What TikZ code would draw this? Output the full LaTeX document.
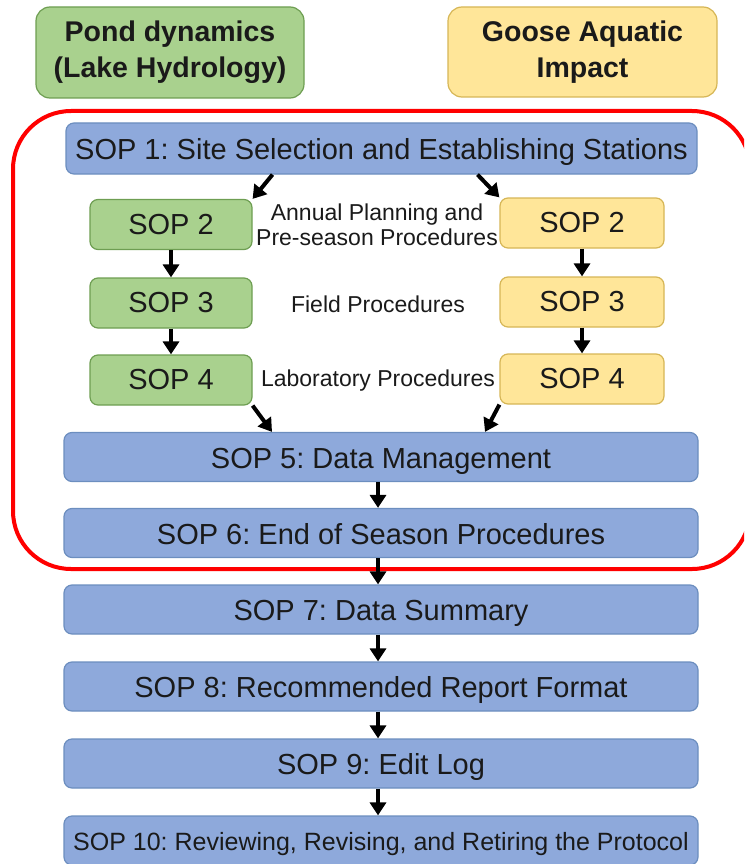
\documentclass[tikz,border=0pt]{standalone}
\usepackage{fontspec}
\setmainfont{Liberation Sans}
\usetikzlibrary{arrows.meta}
\frenchspacing
\definecolor{gfill}{HTML}{A9D18E}
\definecolor{gdraw}{HTML}{6E9E52}
\definecolor{yfill}{HTML}{FFE699}
\definecolor{ydraw}{HTML}{D6B656}
\definecolor{bfill}{HTML}{8EA9DB}
\definecolor{bdraw}{HTML}{6C8EBF}
\definecolor{txt}{HTML}{1A1A1A}
\tikzset{
  base/.style={rounded corners=8pt, line width=1.2pt, inner sep=0pt, align=center, text=txt,
    font=\fontsize{29}{34}\selectfont},
  bluebox/.style={base, fill=bfill, draw=bdraw, minimum width=634pt, minimum height=49pt,
    text height=24pt, text depth=2pt},
  greenbox/.style={base, fill=gfill, draw=gdraw, minimum width=162pt, minimum height=50pt},
  yellowbox/.style={base, fill=yfill, draw=ydraw, minimum width=164pt, minimum height=50pt},
  header/.style={base, rounded corners=14pt, minimum height=91pt, minimum width=268pt,
    font=\bfseries\fontsize{28.5}{36}\selectfont},
  lbl/.style={align=center, text=txt, inner sep=0pt, font=\fontsize{23}{25}\selectfont},
  arr/.style={line width=4pt, -{Triangle[length=13pt,width=16pt]}},
}
\begin{document}
\begin{tikzpicture}[x=1pt,y=-1pt]
\useasboundingbox (0,0) rectangle (744,864);
\clip (0,0) rectangle (744,864);
% headers
\node[header, fill=gfill, draw=gdraw] (hg) at (170,52.5) {Pond dynamics\\(Lake Hydrology)};
\node[header, fill=yfill, draw=ydraw, minimum width=269pt, minimum height=90pt] (hy) at (582.5,52) {Goose Aquatic\\Impact};
% red frame
\draw[red, line width=4pt, rounded corners=58pt] (13,111) rectangle (750,569);
% SOP boxes
\node[bluebox, minimum width=631pt, minimum height=51pt] (s1) at (381.5,148.5) {SOP 1: Site Selection and Establishing Stations};
\node[greenbox] (g2) at (171,224.5) {SOP 2};
\node[greenbox] (g3) at (171,303) {SOP 3};
\node[greenbox] (g4) at (171,380) {SOP 4};
\node[yellowbox] (y2) at (582,223) {SOP 2};
\node[yellowbox] (y3) at (582,302) {SOP 3};
\node[yellowbox] (y4) at (582,379) {SOP 4};
\node[lbl] (l2) at (377,225) {Annual Planning and\\Pre-season Procedures};
\node[lbl] (l3) at (378,304) {Field Procedures};
\node[lbl] (l4) at (378,381) {Laboratory Procedures};
\node[bluebox] (s5) at (381,457) {SOP 5: Data Management};
\node[bluebox] (s6) at (381,533) {SOP 6: End of Season Procedures};
\node[bluebox] (s7) at (381,609.5) {SOP 7: Data Summary};
\node[bluebox] (s8) at (381,686.5) {SOP 8: Recommended Report Format};
\node[bluebox] (s9) at (381,763.5) {SOP 9: Edit Log};
\node[bluebox, font=\fontsize{25}{30}\selectfont, text height=21pt, text depth=2pt] (s10) at (381,840.5) {SOP 10: Reviewing, Revising, and Retiring the Protocol};
% arrows
\draw[arr] ([xshift=-109pt]s1.south) -- (g2.north east);
\draw[arr] ([xshift=96pt]s1.south) -- (y2.north west);
\draw[arr] (g2) -- (g3);
\draw[arr] (g3) -- (g4);
\draw[arr] (y2) -- (y3);
\draw[arr] (y3) -- (y4);
\draw[arr] (g4.south east) -- ([xshift=-109pt]s5.north);
\draw[arr] (y4.south west) -- ([xshift=104pt]s5.north);
\draw[arr] ([xshift=-3pt]s5.south) -- ([xshift=-3pt]s6.north);
\draw[arr] ([xshift=-3pt]s6.south) -- ([xshift=-3pt]s7.north);
\draw[arr] ([xshift=-3pt]s7.south) -- ([xshift=-3pt]s8.north);
\draw[arr] ([xshift=-3pt]s8.south) -- ([xshift=-3pt]s9.north);
\draw[arr] ([xshift=-3pt]s9.south) -- ([xshift=-3pt]s10.north);
\end{tikzpicture}
\end{document}
